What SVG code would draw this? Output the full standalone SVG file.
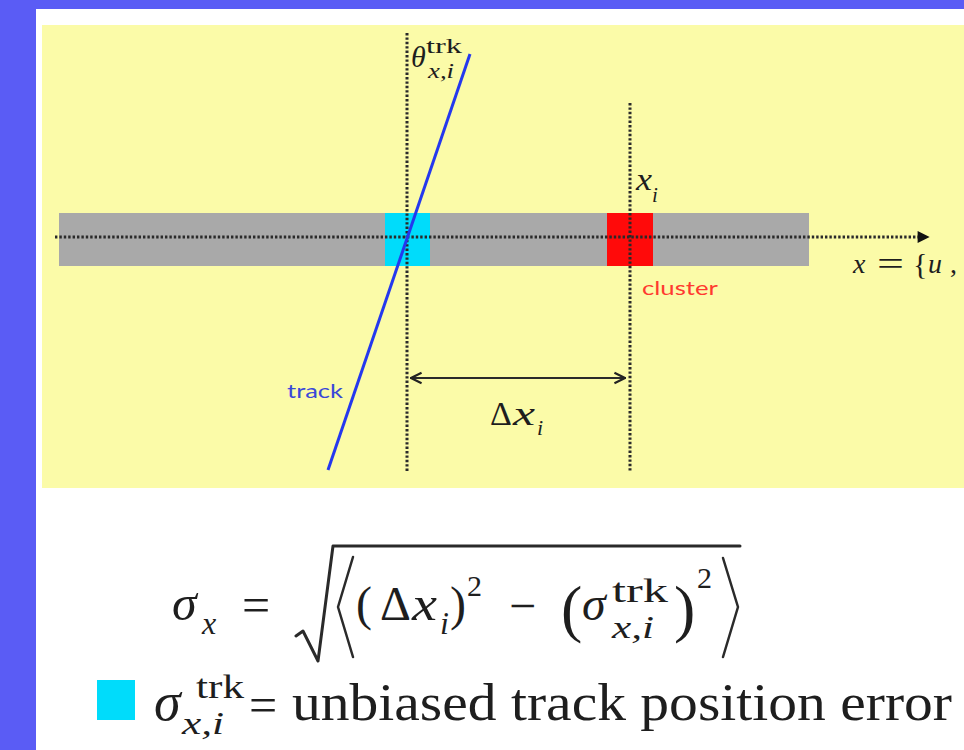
<svg xmlns="http://www.w3.org/2000/svg" width="964" height="750" viewBox="0 0 964 750">
<defs>
<style>
.m{font-family:"Liberation Serif","Times New Roman",serif;fill:#1e1e1e}
.it{font-style:italic}
.lab{font-family:Lato,"Open Sans",sans-serif}
.dot{stroke:#2a2a2a;stroke-width:3;stroke-dasharray:2.4 2;fill:none}
.ln{stroke:#2a2a2a;fill:none;stroke-linecap:round;stroke-linejoin:round}
</style>
<marker id="tri" viewBox="0 0 10 10" refX="2" refY="5" markerWidth="4.5" markerHeight="4" orient="auto" markerUnits="strokeWidth">
<path d="M0,0 L10,5 L0,10 z" fill="#111"/>
</marker>
<marker id="open" viewBox="0 0 10 10" refX="9" refY="5" markerWidth="6" markerHeight="6" orient="auto-start-reverse" markerUnits="strokeWidth">
<path d="M1,1 L9,5 L1,9" fill="none" stroke="#222" stroke-width="1.6"/>
</marker>
</defs>
<rect x="0" y="0" width="964" height="750" fill="#5a5cf5"/>
<rect x="36" y="9" width="928" height="741" fill="#ffffff"/>
<rect x="42" y="25" width="922" height="463" fill="#fbfba8"/>

<g id="sensor"><rect x="59" y="213" width="750" height="53" fill="#a9a9a9"/></g>
<g id="track-hit"><rect x="385" y="213" width="45" height="53" fill="#00dcfb"/></g>
<g id="cluster"><rect x="607" y="213" width="46" height="53" fill="#ff0a0a"/>
<text class="lab" x="642" y="295" font-size="20" fill="#ff3a30" textLength="76" lengthAdjust="spacingAndGlyphs">cluster</text></g>

<g id="connectors">
<line class="dot" x1="55" y1="237" x2="920" y2="237" marker-end="url(#tri)"/>
<line class="dot" x1="407" y1="33" x2="407" y2="472"/>
<line class="dot" x1="630" y1="103" x2="630" y2="472"/>
<line x1="470" y1="54" x2="328" y2="470" stroke="#2438ee" stroke-width="3"/>
<line class="ln" x1="411" y1="378" x2="625" y2="378" stroke-width="2.2" marker-start="url(#open)" marker-end="url(#open)"/>
</g>

<g id="track-label"><text class="lab" x="287" y="398" font-size="20" fill="#3a48d8" textLength="56" lengthAdjust="spacingAndGlyphs">track</text></g>

<g id="theta-label">
<text class="m it" x="411" y="67" font-size="30">θ</text>
<text class="m" x="426" y="53" font-size="22" textLength="36" lengthAdjust="spacingAndGlyphs">trk</text>
<text class="m it" x="428" y="78" font-size="21" textLength="26" lengthAdjust="spacingAndGlyphs">x,i</text>
</g>
<g id="xi-label">
<text class="m it" x="636" y="190" font-size="31" textLength="16" lengthAdjust="spacingAndGlyphs">x</text>
<text class="m it" x="652" y="202" font-size="21">i</text>
</g>
<g id="dx-label">
<text class="m" x="490" y="425" font-size="34">Δ</text>
<text class="m it" x="513" y="425" font-size="34" textLength="22" lengthAdjust="spacingAndGlyphs">x</text>
<text class="m it" x="537" y="435" font-size="22">i</text>
</g>
<g id="axis-label">
<text class="m it" x="853" y="273" font-size="28">x</text>
<text class="m" x="877" y="275" font-size="34" textLength="27" lengthAdjust="spacingAndGlyphs">=</text>
<text class="m" x="913" y="274" font-size="30">{</text>
<text class="m it" x="928" y="273" font-size="28">u</text>
<text class="m" x="950" y="273" font-size="28">,</text>
</g>

<g id="formula">
<text class="m it" x="172" y="620" font-size="50">σ</text>
<text class="m it" x="202" y="634" font-size="32">x</text>
<text class="m" x="242" y="622" font-size="50">=</text>
<path class="ln" d="M296,636 L303,631 L318,661 L333,546 H740" stroke-width="3"/>
<path class="ln" d="M353,557 L338,607 L353,657" stroke-width="2.5"/>
<text class="m" x="356" y="620" font-size="48">(</text>
<text class="m" x="380" y="620" font-size="48">Δ</text>
<text class="m it" x="412" y="620" font-size="48" textLength="25" lengthAdjust="spacingAndGlyphs">x</text>
<text class="m it" x="440" y="634" font-size="32">i</text>
<text class="m" x="450" y="620" font-size="48">)</text>
<text class="m" x="467" y="596" font-size="30">2</text>
<text class="m" x="509" y="622" font-size="48">−</text>
<text class="m" x="561" y="630" font-size="64">(</text>
<text class="m it" x="582" y="620" font-size="48">σ</text>
<text class="m" x="612" y="602" font-size="34" textLength="56" lengthAdjust="spacingAndGlyphs">trk</text>
<text class="m it" x="612" y="638" font-size="32" textLength="42" lengthAdjust="spacingAndGlyphs">x,i</text>
<text class="m" x="674" y="630" font-size="64">)</text>
<text class="m" x="697" y="588" font-size="30">2</text>
<path class="ln" d="M723,558 L738,607 L723,657" stroke-width="2.5"/>
</g>

<g id="legend">
<rect x="97" y="680" width="38" height="40" fill="#00dcfb"/>
<text class="m it" x="154" y="720" font-size="54">σ</text>
<text class="m" x="196" y="698" font-size="34" textLength="48" lengthAdjust="spacingAndGlyphs">trk</text>
<text class="m it" x="182" y="734" font-size="32" textLength="42" lengthAdjust="spacingAndGlyphs">x,i</text>
<text class="m" x="249" y="722" font-size="50">=</text>
<text class="m" x="292" y="720" font-size="52" textLength="660" lengthAdjust="spacingAndGlyphs">unbiased track position error</text>
</g>
</svg>
